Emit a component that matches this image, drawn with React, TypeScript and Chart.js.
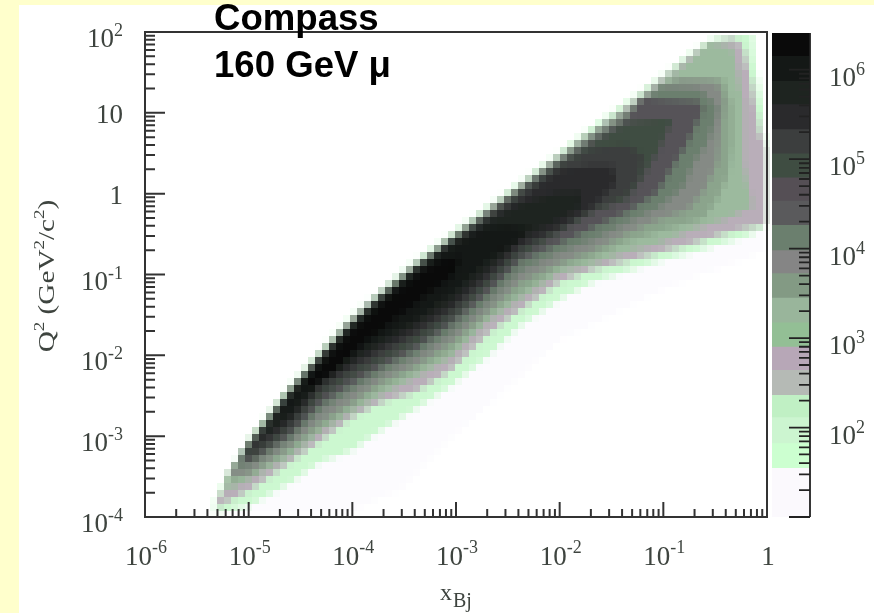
import { useEffect, useRef } from "react";
import { Chart, registerables } from "chart.js";
Chart.register(...registerables);

// Axis ticks (powers of ten) and their labels, written as base and exponent
const xDecades = [1e-6, 1e-5, 1e-4, 1e-3, 1e-2, 1e-1, 1];
const xTickBase = ["10", "10", "10", "10", "10", "10", "1"];
const xTickExp = ["-6", "-5", "-4", "-3", "-2", "-1", ""];
const yDecades = [1e-4, 1e-3, 1e-2, 1e-1, 1, 10, 100];
const yTickBase = ["10", "10", "10", "10", "1", "10", "10"];
const yTickExp = ["-4", "-3", "-2", "-1", "", "", "2"];
const barDecades = [10, 100, 1e3, 1e4, 1e5, 1e6];
const barTickBase = ["", "10", "10", "10", "10", "10"];
const barTickExp = ["", "2", "3", "4", "5", "6"];
const yTitleRuns = [["Q", ""], ["", "2"], [" (GeV", ""], ["", "2"], ["/c", ""], ["", "2"], [")", ""]];
const xTitleMain = "x";
const xTitleSub = "Bj";
const noteLines = ["Compass", "160 GeV μ"];

// Colour scale: band edges (counts) and band colours, bottom to top
const barEdges = [10, 35, 66, 129, 229, 437, 794, 1480, 2800, 5250, 9500, 18200, 34000, 62000, 115000, 214000, 407000, 740000, 1410000, 2570000];
const barColors = ["#fbf9fd", "#ccffd0", "#ccf5d0", "#c0f0c4", "#b5bab5", "#b7a7b7", "#93bf95", "#99b59b", "#839a84", "#858585", "#6b7f6e", "#5a5a5c", "#554f55", "#3f4d42", "#3c3e3e", "#2a2a2c", "#1e2420", "#141816", "#0a0a0a"];

// Contour levels, read as log10(x), log10(Q2)
const xCols = [-4.99, -4.6, -4.31, -4.02, -3.73, -3.4, -3.06, -2.7, -2.38, -2.0, -1.68, -1.35, -1.03, -0.71];

const faintOutline = [[-5.34, -4], [-4.12, -4], [-3.54, -3.66], [-3.06, -3.04], [-2.58, -2.49], [-2, -1.81], [-1.61, -1.56], [-1.03, -1.19], [0, -0.69], [0, -0.2], [-2, 0], [-5.34, -3.9]];

const tipB = [[-5.33, -3.96], [-5.32, -3.75]];
const upperB = [-3.01, -2.36, -1.93, -1.53, -1.19, -0.83, -0.5, -0.16, 0.14, 0.51, 0.83, 1.13, 1.45, 1.76];
const capB = [[-0.52, 1.91], [-0.29, 1.97], [-0.135, 1.97], [-0.116, 1.62], [-0.04, 1.08], [-0.03, 0.73], [0, 0.73], [0, -0.4], [-0.19, -0.53]];
const lowerB = [-3.85, -3.59, -3.33, -3.19, -2.92, -2.67, -2.39, -2.02, -1.64, -1.31, -1.1, -0.96, -0.84, -0.72];

const tipC = [[-5.31, -3.88], [-5.3, -3.8]];
const upperC = [-3.05, -2.4, -1.97, -1.57, -1.23, -0.87, -0.54, -0.2, 0.1, 0.47, 0.78, 1.08, 1.4, 1.72];
const capC = [[-0.52, 1.87], [-0.31, 1.93], [-0.23, 1.82], [-0.145, 1.33], [-0.07, 0.76], [0, 0.55], [0, -0.37], [-0.39, -0.48]];
const lowerC = [-3.66, -3.33, -3.06, -2.77, -2.59, -2.45, -2.2, -1.74, -1.43, -1.1, -0.94, -0.84, -0.73, -0.61];

const tipD = [[-5.22, -3.69], [-5.22, -3.51]];
const upperD = [-3.07, -2.42, -1.99, -1.59, -1.25, -0.89, -0.56, -0.22, 0.08, 0.45, 0.75, 1.04, 1.36, 1.68];
const capD = [[-0.55, 1.87], [-0.33, 1.82], [-0.23, 1.13], [-0.23, 0.38], [-0.14, -0.16], [-0.39, -0.32]];
const lowerD = [-3.54, -3.25, -2.96, -2.71, -2.49, -2.28, -2.05, -1.58, -1.31, -0.98, -0.88, -0.73, -0.61, -0.44];

const tipM = [[-5.18, -3.53], [-5.18, -3.44]];
const upperM = [-3.09, -2.44, -2.01, -1.61, -1.27, -0.91, -0.58, -0.24, 0.06, 0.43, 0.74, 1.02, 1.34];
const capM = [[-0.84, 1.43], [-0.42, 1.43], [-0.34, 1.1], [-0.34, 0.6], [-0.38, 0.2], [-0.48, -0.07], [-0.62, -0.3]];
const lowerM = [-3.49, -3.19, -2.9, -2.65, -2.41, -2.2, -1.95, -1.52, -1.21, -0.92, -0.78, -0.6, -0.46];

const tipE = [[-5.16, -3.51], [-5.16, -3.42]];
const upperE = [-3.1, -2.45, -2.02, -1.62, -1.28, -0.92, -0.59, -0.25, 0.05, 0.42, 0.73, 1.0, 1.33];
const capE = [[-0.84, 1.39], [-0.48, 1.375], [-0.42, 1.13], [-0.45, 0.79], [-0.48, 0.38], [-0.62, 0.01], [-0.77, -0.2]];
const lowerE = [-3.44, -3.13, -2.83, -2.59, -2.33, -2.12, -1.84, -1.46, -1.1, -0.85, -0.69, -0.48, -0.32];

const tipF = [[-5.1, -3.39], [-5.1, -3.33]];
const upperF = [-3.11, -2.46, -2.03, -1.63, -1.29, -0.93, -0.6, -0.26, 0.04, 0.4, 0.69, 0.97, 1.31];
const capF = [[-0.65, 1.29], [-0.48, 1.08], [-0.5, 0.92], [-0.58, 0.63], [-0.71, 0.38], [-0.81, 0.09]];
const lowerF = [-3.36, -3.06, -2.7, -2.46, -2.24, -2.03, -1.74, -1.34, -0.96, -0.73, -0.57, -0.36, -0.16];

const tipG = [[-5.05, -3.29], [-5.05, -3.24]];
const upperG = [-3.12, -2.47, -2.04, -1.64, -1.3, -0.94, -0.61, -0.27, 0.03, 0.38, 0.66, 0.92];
const capG = [[-1.2, 1.19], [-0.94, 1.16], [-0.65, 1.14], [-0.62, 1.04], [-0.77, 0.63], [-0.91, 0.335], [-1.06, 0.01]];
const lowerG = [-3.32, -2.99, -2.61, -2.36, -2.15, -1.94, -1.64, -1.24, -0.84, -0.61, -0.41, -0.23];

const tipH = [[-5.03, -3.24], [-5.03, -3.2]];
const upperH = [-3.13, -2.48, -2.06, -1.65, -1.31, -0.95, -0.62, -0.28, 0.01, 0.36, 0.63, 0.89];
const capH = [[-1.03, 0.92], [-0.91, 0.92], [-1.06, 0.51], [-1.2, 0.21]];
const lowerH = [-3.27, -2.93, -2.52, -2.28, -2.08, -1.87, -1.56, -1.16, -0.77, -0.48, -0.23, -0.07];

const tipI = [[-5.02, -3.2]];
const upperI = [-3.15, -2.51, -2.08, -1.68, -1.34, -0.98, -0.64, -0.31, -0.01, 0.335, 0.55, 0.595];
const capI = [[-1.2, 0.46], [-1.23, 0.21]];
const lowerI = [-3.23, -2.88, -2.45, -2.21, -2.02, -1.79, -1.5, -1.09, -0.7, -0.44, -0.2, -0.01];

const tipJ = [[-5.01, -3.19]];
const upperJ = [-3.18, -2.53, -2.1, -1.7, -1.36, -1.0, -0.67, -0.34, -0.07, 0.3, 0.335];
const capJ = [[-1.49, 0.335], [-1.45, 0.14]];
const lowerJ = [-3.19, -2.83, -2.37, -2.14, -1.94, -1.72, -1.43, -1.03, -0.63, -0.41, -0.16];

const tipK = [[-4.91, -3.04]];
const upperK = [-2.49, -2.06, -1.65, -1.31, -0.95, -0.64, -0.36, -0.135, 0.01];
const capK = [[-1.8, 0.01], [-1.8, -0.16]];
const lowerK = [-2.77, -2.35, -2.08, -1.87, -1.63, -1.35, -0.94, -0.54, -0.32];

const tipL = [[-4.78, -2.86]];
const upperL = [-2.54, -2.09, -1.69, -1.35, -0.99, -0.68, -0.42];
const capL = [[-2.53, -0.395], [-2.29, -0.41], [-2.43, -0.605]];
const lowerL = [-2.7, -2.28, -1.99, -1.78, -1.56, -1.25, -0.84];

const coreOutline = [[-4.46, -2.36], [-4.31, -2.15], [-4.02, -1.74], [-3.73, -1.4], [-3.4, -1.04], [-3.15, -0.84], [-2.96, -0.78], [-3.03, -1.0], [-3.3, -1.27], [-3.57, -1.52], [-3.88, -1.83], [-4.17, -2.18], [-4.41, -2.4]];

type P = number[];
function outline(tip: P[], upper: number[], cap: P[], lower: number[], first = 0): P[] {
  const up = upper.map((y, i) => [xCols[i + first], y]);
  const low = lower.map((y, i) => [xCols[i + first], y]).reverse();
  return [...tip, ...up, ...cap, ...low];
}

const levels: { color: string; pts: P[] }[] = [
  { color: "#fcfbfe", pts: faintOutline },
  { color: "#ccf8d0", pts: outline(tipB, upperB, capB, lowerB) },
  { color: "#b9aeb9", pts: outline(tipC, upperC, capC, lowerC) },
  { color: "#9cba9e", pts: outline(tipD, upperD, capD, lowerD) },
  { color: "#8ba48c", pts: outline(tipM, upperM, capM, lowerM) },
  { color: "#858a85", pts: outline(tipE, upperE, capE, lowerE) },
  { color: "#6b7f6e", pts: outline(tipF, upperF, capF, lowerF) },
  { color: "#565358", pts: outline(tipG, upperG, capG, lowerG) },
  { color: "#3f4d42", pts: outline(tipH, upperH, capH, lowerH) },
  { color: "#3c3e3e", pts: outline(tipI, upperI, capI, lowerI) },
  { color: "#2a2a2c", pts: outline(tipJ, upperJ, capJ, lowerJ) },
  { color: "#1e2420", pts: outline(tipK, upperK, capK, lowerK, 1) },
  { color: "#141816", pts: outline(tipL, upperL, capL, lowerL, 1) },
  { color: "#0a0a0a", pts: coreOutline },
];

const SERIF = "'Liberation Serif', 'DejaVu Serif', serif";
const TEXT = "#3e443f";
const LINE = "#333333";
const CELL = 7;

function decadeTicks(decades: number[]) {
  return (scale: any) => {
    const out: any[] = [];
    decades.forEach((d, i) => {
      out.push({ value: d, major: true });
      if (i < decades.length - 1) for (let k = 2; k < 10; k++) out.push({ value: d * k, major: false });
    });
    scale.ticks = out.filter((t) => t.value <= scale.max * 1.0001);
  };
}

// Draws "10" and its raised exponent. anchor: left, right or center of the whole label.
function drawPower(ctx: any, base: string, exp: string, x: number, baseline: number, supBaseline: number, anchor: string) {
  ctx.textAlign = "left";
  ctx.textBaseline = "alphabetic";
  ctx.font = `27px ${SERIF}`;
  const bw = ctx.measureText(base).width;
  ctx.font = `18px ${SERIF}`;
  const ew = exp ? ctx.measureText(exp).width : 0;
  const total = bw + ew;
  const left = anchor === "right" ? x - total : anchor === "center" ? x - total / 2 : x;
  ctx.font = `27px ${SERIF}`;
  ctx.fillText(base, left, baseline);
  if (exp) {
    ctx.font = `18px ${SERIF}`;
    ctx.fillText(exp, left + bw, supBaseline);
  }
}

const mainDecor = {
  id: "mainDecor",
  afterDatasetsDraw(chart: any) {
    const { ctx, chartArea: a, scales } = chart;
    ctx.save();
    ctx.strokeStyle = LINE;
    ctx.lineWidth = 2;
    ctx.beginPath();
    ctx.rect(a.left, a.top, a.right - a.left, a.bottom - a.top);
    for (const t of scales.x.ticks) {
      const p = scales.x.getPixelForValue(t.value);
      ctx.moveTo(p, a.bottom);
      ctx.lineTo(p, a.bottom - (t.major ? 15 : 8));
    }
    for (const t of scales.y.ticks) {
      const p = scales.y.getPixelForValue(t.value);
      ctx.moveTo(a.left, p);
      ctx.lineTo(a.left + (t.major ? 20 : 10), p);
    }
    ctx.stroke();

    ctx.fillStyle = TEXT;
    xDecades.forEach((d, i) => {
      const p = scales.x.getPixelForValue(d);
      drawPower(ctx, xTickBase[i], xTickExp[i], p + 1, 565, 553, "center");
    });
    yDecades.forEach((d, i) => {
      const p = scales.y.getPixelForValue(d);
      const sup = yTickExp[i] !== "";
      drawPower(ctx, yTickBase[i], yTickExp[i], 123, p + (sup ? 15 : 10), p + 4, "right");
    });

    // y axis title, stretched along its length like the reference
    ctx.save();
    ctx.translate(54, 276);
    ctx.rotate(-Math.PI / 2);
    ctx.scale(1.27, 1);
    const widths = yTitleRuns.map(([t, s]) => {
      ctx.font = `${t ? 23 : 15}px ${SERIF}`;
      return ctx.measureText(t || s).width;
    });
    let cx = -widths.reduce((p, c) => p + c, 0) / 2;
    yTitleRuns.forEach(([t, s], i) => {
      ctx.font = `${t ? 23 : 15}px ${SERIF}`;
      ctx.textAlign = "left";
      ctx.fillText(t || s, cx, t ? 0 : -10);
      cx += widths[i];
    });
    ctx.restore();

    // x axis title with its subscript
    ctx.textAlign = "left";
    ctx.font = `24px ${SERIF}`;
    ctx.fillText(xTitleMain, 440, 600);
    ctx.font = `20px ${SERIF}`;
    ctx.fillText(xTitleSub, 453, 607);

    // note
    ctx.fillStyle = "#000000";
    ctx.font = "bold 36.6px 'Liberation Sans', Arial, sans-serif";
    ctx.fillText(noteLines[0], 214, 30);
    ctx.fillText(noteLines[1], 214, 77);
    ctx.restore();
  },
};

const barDecor = {
  id: "barDecor",
  afterDatasetsDraw(chart: any) {
    const { ctx, chartArea: a, scales } = chart;
    ctx.save();
    ctx.strokeStyle = "#222222";
    ctx.lineWidth = 1.8;
    ctx.beginPath();
    ctx.moveTo(a.right, a.top);
    ctx.lineTo(a.right, a.bottom);
    for (const t of scales.y.ticks) {
      const p = scales.y.getPixelForValue(t.value);
      ctx.moveTo(a.right, p);
      ctx.lineTo(a.right - (t.major ? 21 : 11), p);
    }
    ctx.stroke();
    ctx.fillStyle = TEXT;
    barDecades.forEach((d, i) => {
      if (!barTickBase[i]) return;
      const p = scales.y.getPixelForValue(d);
      drawPower(ctx, barTickBase[i], barTickExp[i], 829, p + 16, p + 5, "left");
    });
    ctx.restore();
  },
};

const hiddenLog = (min: number, max: number, decades: number[]) => ({
  type: "logarithmic",
  display: false,
  min,
  max,
  ticks: { autoSkip: false },
  afterBuildTicks: decadeTicks(decades),
});

export default function App() {
  const heatRef = useRef<HTMLCanvasElement>(null);
  const mainRef = useRef<HTMLCanvasElement>(null);
  const barRef = useRef<HTMLCanvasElement>(null);

  useEffect(() => {
    // The map itself: drawn on a coarse backing store so that it has the cells of the original
    const heat = new Chart(heatRef.current!, {
      type: "scatter",
      data: {
        datasets: levels.map((l, i) => ({
          label: `level ${i}`,
          data: l.pts.map(([x, y]) => ({ x: Math.pow(10, x), y: Math.pow(10, y) })),
          showLine: true,
          fill: "shape",
          backgroundColor: l.color,
          borderColor: l.color,
          borderWidth: 0,
          pointRadius: 0,
          tension: 0,
          order: levels.length - i,
        })),
      } as any,
      options: {
        animation: false,
        responsive: false,
        devicePixelRatio: 1 / CELL,
        layout: { padding: { left: 145, top: 32, right: 108, bottom: 99 } },
        plugins: { legend: { display: false }, tooltip: { enabled: false } },
        scales: { x: hiddenLog(1e-6, 1, xDecades), y: hiddenLog(1e-4, 100, yDecades) },
      } as any,
    });

    const main = new Chart(mainRef.current!, {
      type: "scatter",
      data: { datasets: [] },
      plugins: [mainDecor],
      options: {
        animation: false,
        responsive: false,
        layout: { padding: { left: 145, top: 32, right: 107, bottom: 96 } },
        plugins: { legend: { display: false }, tooltip: { enabled: false } },
        scales: { x: hiddenLog(1e-6, 1, xDecades), y: hiddenLog(1e-4, 100, yDecades) },
      } as any,
    });

    const bar = new Chart(barRef.current!, {
      type: "bar",
      data: {
        labels: ["scale"],
        datasets: barColors.map((c, i) => ({
          label: `band ${i}`,
          data: [[barEdges[i], barEdges[i + 1]]],
          backgroundColor: c,
          borderWidth: 0,
          barPercentage: 1,
          categoryPercentage: 1,
          grouped: false,
        })),
      } as any,
      plugins: [barDecor],
      options: {
        animation: false,
        responsive: false,
        layout: { padding: { left: 772, top: 33, right: 64, bottom: 96 } },
        plugins: { legend: { display: false }, tooltip: { enabled: false } },
        scales: { x: { display: false }, y: hiddenLog(10, 2570000, barDecades) },
      } as any,
    });

    return () => {
      heat.destroy();
      main.destroy();
      bar.destroy();
    };
  }, []);

  const cv: any = { position: "absolute", left: 0, top: 0, width: 874, height: 613 };
  return (
    <div style={{ position: "fixed", left: 0, top: 0, width: 874, height: 613, background: "#ffffcc", overflow: "hidden" }}>
      <div style={{ position: "absolute", left: 19, top: 5, right: 0, bottom: 0, background: "#ffffff" }} />
      <canvas
        ref={heatRef}
        width={875}
        height={616}
        style={{ position: "absolute", left: 0, top: 0, width: 875, height: 616, imageRendering: "pixelated", filter: "blur(0.6px)" }}
      />
      <canvas ref={barRef} width={874} height={613} style={cv} />
      <canvas ref={mainRef} width={874} height={613} style={cv} />
    </div>
  );
}
